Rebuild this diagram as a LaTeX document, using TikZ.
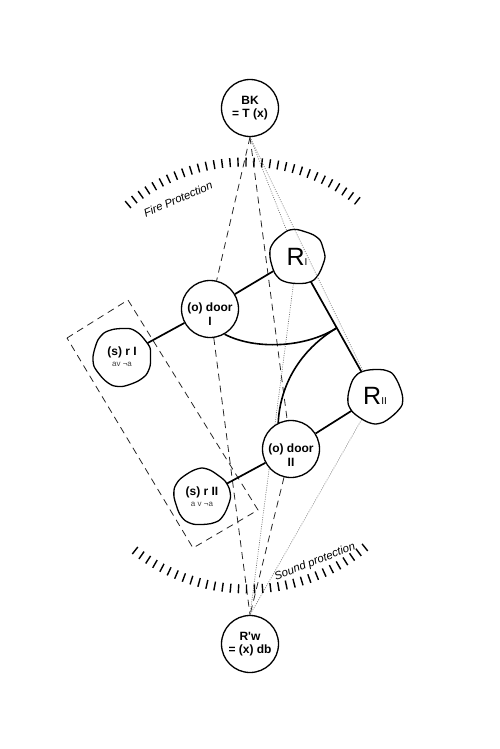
\documentclass[tikz,border=0pt]{standalone}
\usepackage{fontspec}
\newfontfamily\lsans{Liberation Sans}
\usetikzlibrary{calc}
\pgfdeclarelayer{bg}
\pgfdeclarelayer{mid}
\pgfsetlayers{bg,mid,main}
\begin{document}
\begin{tikzpicture}[x=1pt,y=-1pt,
  circnode/.style={circle, draw, line width=1.3pt, fill=white, minimum size=57pt, inner sep=0pt,
    font=\lsans\bfseries\fontsize{12}{13.5}\selectfont, align=center},
  blobnode/.style={circle, inner sep=0pt, minimum size=#1, align=center,
    font=\lsans\bfseries\fontsize{12}{13}\selectfont},
  lbl/.style={font=\lsans\bfseries\fontsize{12}{14}\selectfont, align=center, inner sep=0pt},
  conn/.style={line width=1.7pt},
  dashln/.style={line width=0.8pt, dash pattern=on 7pt off 5pt, black!85},
  dotln/.style={line width=0.7pt, dash pattern=on 0.9pt off 1.4pt, black!55},
  blobline/.style={line width=1.3pt, fill=white},
  ticks/.style={line width=9pt, dash pattern=on 1.4pt off 6.6pt},
  arclabel/.style={font=\lsans\itshape\fontsize{11.3}{12}\selectfont, inner sep=0pt}
]
\useasboundingbox (0,0) rectangle (500,749);

% nodes
\node[circnode] (BK) at (250,108) {BK\\= T (x)};
\node[circnode] (doorI) at (210,309) {};
\node[lbl] (doorI-t) at (210,314) {(o) door\\I};
\node[circnode] (doorII) at (291,449) {};
\node[lbl] (doorII-t) at (291,455) {(o) door\\II};
\node[circnode] (Rw) at (250,644) {R'w\\= (x) db};

\node[blobnode=55pt] (RI) at (297,257) {\mdseries{\fontsize{25}{25}\selectfont R}{\fontsize{10}{10}\selectfont I}};
\node[blobnode=54pt] (RII) at (375,396) {\mdseries{\fontsize{25}{25}\selectfont R}{\fontsize{10}{10}\selectfont II}};
\node[blobnode=58pt] (sI) at (122,357) {(s) r I\\[-2pt]{\mdseries\fontsize{8}{9}\selectfont\color{black!75}av ¬a}};
\node[blobnode=56pt] (sII) at (202,497) {(s) r II\\[-2pt]{\mdseries\fontsize{8}{9}\selectfont\color{black!75}a v ¬a}};

% arc labels
\node[arclabel, rotate=23] (fire) at (178,199) {Fire Protection};
\node[arclabel, rotate=21] (sound) at (315,562) {Sound protection};

\begin{pgfonlayer}{bg}
  % dashed frame
  \draw[dashln] (67,338) -- (128,300) -- (258,510) -- (193,548) -- cycle;
  % dashed connectors
  \draw[dashln] (BK.south) -- (doorI);
  \draw[dashln] (BK.south) -- (doorII);
  \draw[dashln] (doorI) -- (Rw.north);
  \draw[dashln] (doorII) -- (Rw.north);
  % dotted connectors
  \draw[dotln] (BK.south) -- (RI);
  \draw[dotln] (RI) -- (Rw.north);
  \draw[dotln] (RII) -- (Rw.north);
  % tick arcs
  \draw[ticks] plot[domain=-130.2:-49.8, samples=80, variable=\t] ({245+182*cos(\t)},{344+182*sin(\t)});
  \draw[ticks] plot[domain=50.6:129.4, samples=80, variable=\t] ({248+185*cos(\t)},{404+185*sin(\t)});
  % solid connectors
  \draw[conn] (sI) -- (doorI);
  \draw[conn] (doorI) -- (RI);
  \draw[conn] (RI) -- (RII);
  \draw[conn] (RII) -- (doorII);
  \draw[conn] (doorII) -- (sII);
  \coordinate (J) at ($(RI)!0.51!(RII)$);
  \draw[conn, line width=1.6pt] (doorI.-60) .. controls (255,350) and (305,348) .. (J);
  \draw[conn, line width=1.6pt] (J) .. controls (300,350) and (280,385) .. (doorII.116);
\end{pgfonlayer}

\begin{pgfonlayer}{mid}
  \draw[blobline, shift={(RI)}] plot[smooth cycle] coordinates {(0:28) (18:27) (36:27.5) (54:28.5) (72:27.5) (90:26.5) (108:27) (126:28) (144:27.5) (162:26.5) (180:27) (198:28) (216:27.5) (234:27) (252:28) (270:27.5) (288:26.5) (306:27.5) (324:28.5) (342:27.5)};
  \draw[blobline, shift={(RII)}] plot[smooth cycle] coordinates {(0:27.5) (18:28.5) (36:27) (54:26.5) (72:27.5) (90:28) (108:27) (126:26.5) (144:27.5) (162:28) (180:27) (198:26.5) (216:27.5) (234:28) (252:27) (270:26.5) (288:27.5) (306:28.5) (324:27) (342:26.5)};
  \draw[blobline, shift={(sI)}] plot[smooth cycle] coordinates {(0:28.5) (18:29.5) (36:30) (54:29) (72:28.5) (90:29.5) (108:30) (126:29) (144:28.5) (162:29.5) (180:29) (198:28.5) (216:29.5) (234:30) (252:29) (270:28.5) (288:29.5) (306:29) (324:28.5) (342:29.5)};
  \draw[blobline, shift={(sII)}] plot[smooth cycle] coordinates {(0:28.5) (18:27.5) (36:28) (54:29) (72:28) (90:27.5) (108:28.5) (126:29) (144:28) (162:27) (180:28) (198:29) (216:28.5) (234:27.5) (252:28) (270:29) (288:28) (306:27) (324:28) (342:28.5)};
\end{pgfonlayer}

% dotted connector crossing the corner of R_I
\draw[dotln] (BK.south) -- (RII);
\end{tikzpicture}
\end{document}
